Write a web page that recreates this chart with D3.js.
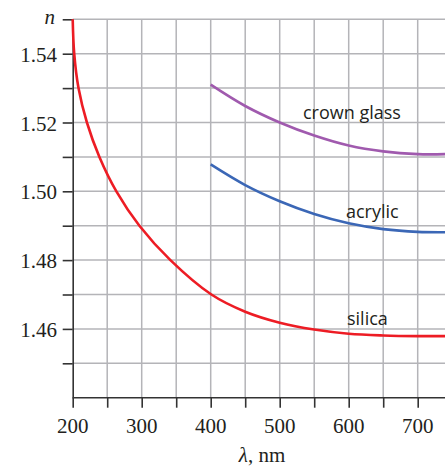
<!DOCTYPE html>
<html lang="en">
<head>
    <meta charset="UTF-8">
    <title>Refractive index vs wavelength</title>
    <script src="https://d3js.org/d3.v7.min.js"></script>
    <style>
        body { margin: 0; background: #fff; }
        .grid line { stroke: #b4b4b8; stroke-width: 1.5px; }
        .axis line, .axis path { stroke: #333; stroke-width: 1.6px; }
        .ticklabel { font-family: "Liberation Serif", "DejaVu Serif", serif; font-size: 21px; fill: #231f20; }
        .curve { fill: none; stroke-width: 2.6px; }
        .label { font-family: "Open Sans", "Noto Sans", sans-serif; font-size: 18px; fill: #231f20; }
    </style>
</head>
<body>
    <svg width="445" height="468"></svg>
    <script>
        // values (wavelength in nm, index n)
        const silicaLambda = [200, 202.2, 208.4, 220.6, 238.7, 263.3, 296.7, 341.6, 401, 450, 500, 550, 600, 650, 700, 740];
        const silicaN      = [1.55, 1.54, 1.53, 1.52, 1.51, 1.50, 1.49, 1.48, 1.47, 1.465, 1.4618, 1.4598, 1.4586, 1.4581, 1.4579, 1.4579];

        const crownLambda = [400, 450, 500, 550, 600, 650, 700, 740];
        const crownN      = [1.531, 1.5248, 1.52, 1.5162, 1.5133, 1.5116, 1.5108, 1.5108];

        const acrylicLambda = [400, 450, 500, 550, 600, 650, 700, 740];
        const acrylicN      = [1.5078, 1.5018, 1.4971, 1.4934, 1.4907, 1.489, 1.4882, 1.4881];

        const xTickLabels = [200, 300, 400, 500, 600, 700];
        const yTickLabels = [1.46, 1.48, 1.50, 1.52, 1.54];

        const svg = d3.select("svg");

        const x = d3.scaleLinear().domain([200, 740]).range([72.7, 445.3]);
        const y = d3.scaleLinear().domain([1.44, 1.55]).range([397.7, 19.3]);

        const xMinor = d3.range(200, 741, 50);
        const yMinor = d3.range(0, 12).map(i => +(1.44 + i * 0.01).toFixed(2));

        // grid
        const grid = svg.append("g").attr("class", "grid");
        grid.selectAll("line.v")
            .data(xMinor.slice(1))
            .enter().append("line")
            .attr("x1", d => x(d)).attr("x2", d => x(d))
            .attr("y1", y(1.55)).attr("y2", y(1.44));
        grid.selectAll("line.h")
            .data(yMinor.slice(1))
            .enter().append("line")
            .attr("x1", x(200)).attr("x2", 445)
            .attr("y1", d => y(d)).attr("y2", d => y(d));

        // axes
        const xAxis = svg.append("g")
            .attr("class", "axis")
            .attr("transform", `translate(0,${y(1.44)})`)
            .call(d3.axisBottom(x).tickValues(xMinor).tickSize(10).tickSizeOuter(0).tickFormat(""));
        xAxis.select(".domain").attr("d", `M${x(200)},0H445`);

        const yAxis = svg.append("g")
            .attr("class", "axis")
            .attr("transform", `translate(${x(200)},0)`)
            .call(d3.axisLeft(y).tickValues(yMinor.slice(1)).tickSize(10).tickSizeOuter(0).tickFormat(""));

        svg.append("g").selectAll("text")
            .data(xTickLabels)
            .enter().append("text")
            .attr("class", "ticklabel")
            .attr("x", d => x(d))
            .attr("y", 433)
            .attr("text-anchor", "middle")
            .text(d => d);

        svg.append("g").selectAll("text")
            .data(yTickLabels)
            .enter().append("text")
            .attr("class", "ticklabel")
            .attr("x", 57)
            .attr("y", d => y(d) + 8)
            .attr("text-anchor", "end")
            .text(d => d.toFixed(2));

        svg.append("text")
            .attr("class", "ticklabel")
            .attr("x", 55).attr("y", 24)
            .attr("text-anchor", "end")
            .style("font-style", "italic")
            .text("n");

        const xt = svg.append("text")
            .attr("class", "ticklabel")
            .attr("x", 262).attr("y", 462)
            .attr("text-anchor", "middle");
        xt.append("tspan").style("font-style", "italic").text("λ");
        xt.append("tspan").text(", nm");

        // curves
        const line = d3.line()
            .x(d => x(d[0]))
            .y(d => y(d[1]))
            .curve(d3.curveCatmullRom.alpha(0.5));

        const series = [
            { name: "silica", lambda: silicaLambda, n: silicaN, color: "#ed1c24", lx: 347, ly: 325 },
            { name: "crown glass", lambda: crownLambda, n: crownN, color: "#a05aae", lx: 303, ly: 119 },
            { name: "acrylic", lambda: acrylicLambda, n: acrylicN, color: "#3b67b6", lx: 346, ly: 218 }
        ];

        svg.append("g").selectAll("path")
            .data(series)
            .enter().append("path")
            .attr("class", "curve")
            .attr("stroke", d => d.color)
            .attr("d", d => line(d3.zip(d.lambda, d.n)));

        svg.append("g").selectAll("text")
            .data(series)
            .enter().append("text")
            .attr("class", "label")
            .attr("x", d => d.lx)
            .attr("y", d => d.ly)
            .text(d => d.name);
    </script>
</body>
</html>
